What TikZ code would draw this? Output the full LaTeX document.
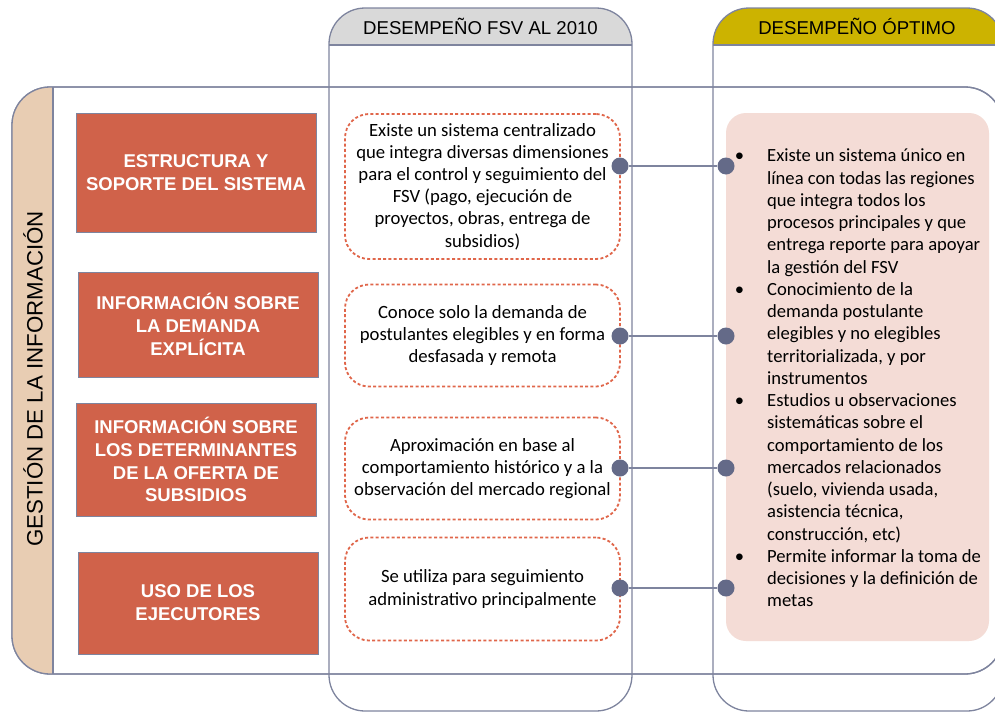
\documentclass[tikz,border=0pt]{standalone}
\usepackage{fontspec}
\setmainfont{Carlito}
\newfontfamily\arialfont{Liberation Sans}
\definecolor{framecol}{HTML}{7E849E}
\definecolor{boxred}{HTML}{D0624A}
\definecolor{bandtan}{HTML}{E8CDB3}
\definecolor{fsvgray}{HTML}{D9D9D9}
\definecolor{optgold}{HTML}{CCB300}
\definecolor{panelpink}{HTML}{F4DCD6}
\definecolor{dotcol}{HTML}{646A88}
\definecolor{dashcol}{HTML}{E0664A}
\tikzset{
  frame/.style={draw=framecol,line width=1.3pt},
  redbox/.style={draw=framecol,line width=0.8pt,fill=boxred,text=white,align=center,
    minimum width=240,inner sep=0pt,font=\arialfont\bfseries\fontsize{18.5}{22.8}\selectfont},
  fsvbox/.style={draw=dashcol,line width=1.8pt,dash pattern=on 3pt off 2.3pt,rounded corners=24,
    minimum width=275,align=center,inner sep=0pt,font=\fontsize{18.7}{22.2}\selectfont},
  dot/.style={circle,fill=dotcol,minimum size=17,inner sep=0pt},
  link/.style={draw=framecol,line width=1.2pt},
  headtext/.style={font=\arialfont\fontsize{18.6}{22}\selectfont}
}
\begin{document}
\begin{tikzpicture}[x=1pt,y=-1pt]
  \useasboundingbox (0,0) rectangle (995,712);
  \clip (0,0) rectangle (995,712);
  % row frame and side band
  \draw[frame,fill=white,rounded corners=38] (12,87) rectangle (1003,674);
  \begin{scope}
    \clip (0,0) rectangle (53,712);
    \fill[bandtan,rounded corners=38] (12,87) rectangle (200,674);
  \end{scope}
  \draw[frame,rounded corners=38] (12,87) rectangle (1003,674);
  \draw[frame] (53,87) -- (53,674);
  \node[rotate=90,font=\arialfont\fontsize{22.3}{26}\selectfont] (gestion) at (33,379) {GESTIÓN DE LA INFORMACIÓN};
  % column headers
  \begin{scope}
    \clip (0,0) rectangle (995,45);
    \fill[fsvgray,rounded corners=36] (329,8) rectangle (632,120);
    \fill[optgold,rounded corners=36] (713,8) rectangle (1003,120);
  \end{scope}
  \draw[frame,rounded corners=36] (329,8) rectangle (632,711);
  \draw[frame,rounded corners=36] (713,8) rectangle (1003,711);
  \draw[frame] (329,45) -- (632,45);
  \draw[frame] (713,45) -- (1003,45);
  \node[headtext] (fsvhead) at (480.5,26) {DESEMPEÑO FSV AL 2010};
  \node[headtext] (opthead) at (857,26) {DESEMPEÑO ÓPTIMO};
  %
  \node[redbox,minimum height=119] (estructura) at (196,172.5) {ESTRUCTURA Y\\SOPORTE DEL SISTEMA};
  \node[redbox,minimum height=105] (demanda) at (198,324.5) {INFORMACIÓN SOBRE\\LA DEMANDA\\EXPLÍCITA};
  \node[redbox,minimum height=113] (oferta) at (196,459.5) {INFORMACIÓN SOBRE\\LOS DETERMINANTES\\DE LA OFERTA DE\\SUBSIDIOS};
  \node[redbox,minimum height=102] (ejecutores) at (198,603) {USO DE LOS\\EJECUTORES};
  %
  \node[fsvbox,minimum height=145] (fsvA) at (482.5,186.5) {Existe un sistema centralizado\\que integra diversas dimensiones\\para el control y seguimiento del\\FSV (pago, ejecución de\\proyectos, obras, entrega de\\subsidios)};
  \node[fsvbox,minimum height=102] (fsvB) at (482.5,335.5) {Conoce solo la demanda de\\postulantes elegibles y en forma\\desfasada y remota};
  \node[fsvbox,minimum height=102] (fsvC) at (482.5,468.5) {Aproximación en base al\\comportamiento histórico y a la\\observación del mercado regional};
  \node[fsvbox,minimum height=103] (fsvD) at (482.5,589) {Se utiliza para seguimiento\\administrativo principalmente};
  %
  \node[fill=panelpink,rounded corners=20,minimum width=263,minimum height=528,inner sep=0pt] (optimo) at (857.5,377) {};
  \node[anchor=north west,inner sep=0pt,align=left,font=\fontsize{18.6}{22.25}\selectfont] (optlist) at (767,146) {%
    \strut\llap{\textbullet\hspace{23pt}}Existe un sistema único en\\línea con todas las regiones\\que integra todos los\\procesos principales y que\\entrega reporte para apoyar\\la gestión del FSV\\
    \llap{\textbullet\hspace{23pt}}Conocimiento de la\\demanda postulante\\elegibles y no elegibles\\territorializada, y por\\instrumentos\\
    \llap{\textbullet\hspace{23pt}}Estudios u observaciones\\sistemáticas sobre el\\comportamiento de los\\mercados relacionados\\(suelo, vivienda usada,\\asistencia técnica,\\construcción, etc)\\
    \llap{\textbullet\hspace{23pt}}Permite informar la toma de\\decisiones y la definición de\\metas};
  %
  \foreach \name/\y in {A/166,B/336,C/468,D/588}{
    \node[dot] (\name1) at (620,\y) {};
    \node[dot] (\name2) at (726,\y) {};
    \draw[link] (\name1) -- (\name2);
  }
\end{tikzpicture}
\end{document}
